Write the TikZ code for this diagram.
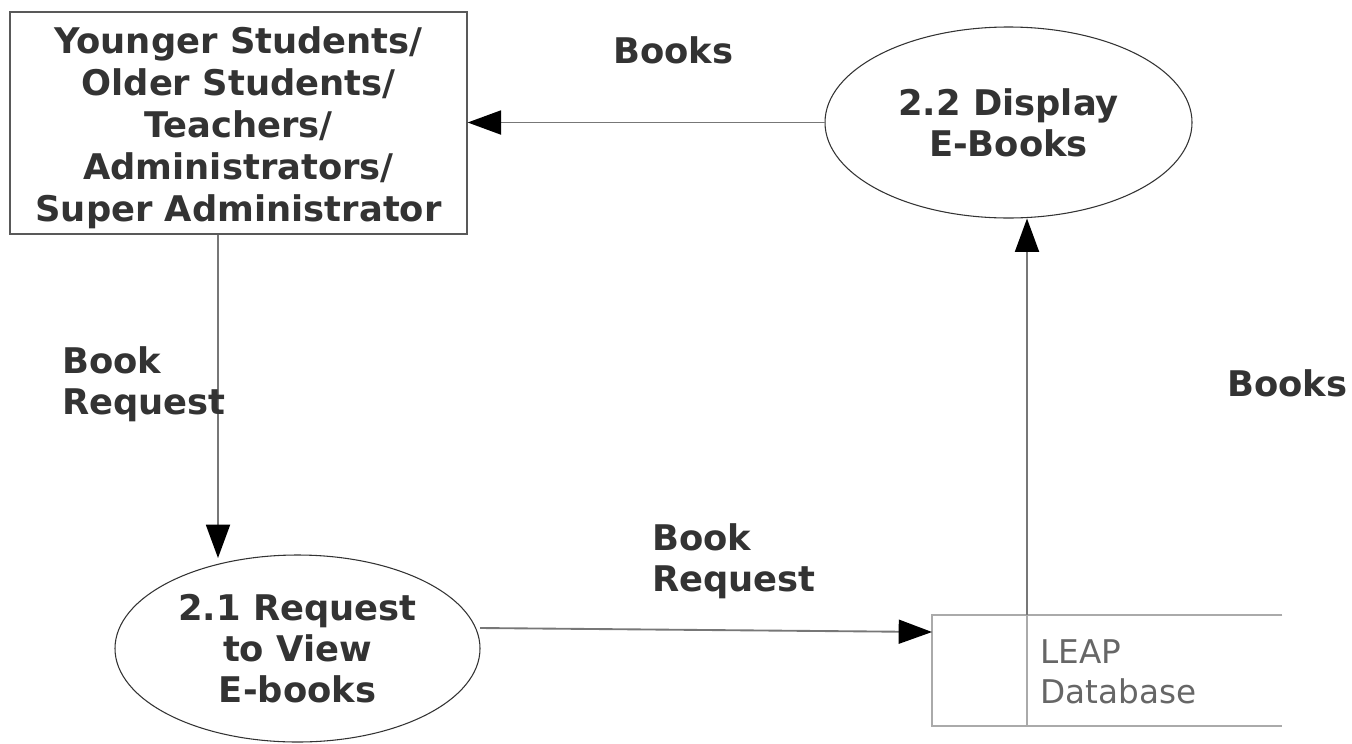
\documentclass[tikz,border=0pt]{standalone}
\usepackage{fontspec}
\setmainfont{DejaVu Sans}
\usetikzlibrary{shapes.geometric,arrows.meta}
\definecolor{txt}{HTML}{333333}
\definecolor{edge}{HTML}{777777}
\definecolor{dsline}{HTML}{AAAAAA}
\tikzset{
  lbl/.style={font=\fontsize{26.5}{31}\selectfont\bfseries, text=txt, align=left, anchor=west, inner sep=0pt},
  proc/.style={ellipse, draw=black!80, line width=0.8pt, font=\fontsize{26.5}{31}\selectfont\bfseries, text=txt, align=center, inner sep=0pt},
  ent/.style={rectangle, draw=black!65, line width=1pt, inner sep=0pt},
  enttext/.style={font=\fontsize{26.5}{31.5}\selectfont\bfseries, text=txt, align=center, inner sep=0pt},
  flow/.style={draw=edge, line width=1.4pt, -{Triangle[length=25pt,width=18pt,fill=black,color=black]}},
}
\begin{document}
\begin{tikzpicture}[x=0.75pt,y=-0.75pt]
\useasboundingbox (0,0) rectangle (1352,743);
\node[ent, minimum width=342.75pt, minimum height=166.5pt] (ent) at (238.5,123) {};
\node[enttext] (entl) at (238.5,128)
  {Younger Students/\\Older Students/\\Teachers/\\Administrators/\\Super Administrator};
\node[proc, minimum width=275.25pt, minimum height=143.25pt] (p22) at (1008.5,122.5) {2.2 Display\\E-Books};
\node[proc, minimum width=273.75pt, minimum height=140.25pt] (p21) at (297.5,648.5) {2.1 Request\\to View\\E-books};
\node[inner sep=0pt, minimum width=262.5pt, minimum height=83.25pt] (ds) at (1107,670.5) {};
\draw[dsline, line width=1.3pt] (ds.north east) -- (ds.north west) -- (ds.south west) -- (ds.south east);
\coordinate (dsdiv) at (1027,615);
\coordinate (dsdivb) at (1027,726);
\draw[dsline, line width=1.3pt] (dsdiv) -- (dsdivb);
\node[font=\fontsize{24.5}{30}\selectfont, text=black!60, align=left, anchor=west, inner sep=0pt] (dstext) at (1040,672) {LEAP\\Database};
\coordinate (dsin) at (932,632);
\coordinate (p21out) at (480,628);
\draw[flow] (p22.west) -- (p22.west -| ent.east);
\draw[flow] (ent.south -| 218,0) -- (218,558);
\draw[flow] (p21out) -- (dsin);
\draw[flow] (dsdiv) -- (p22.south -| dsdiv);
\node[lbl] (l1) at (613,50) {Books};
\node[lbl] (l2) at (62,384) {Book\\Request};
\node[lbl] (l3) at (652,561) {Book\\Request};
\node[lbl] (l4) at (1227,383) {Books};
\end{tikzpicture}
\end{document}
